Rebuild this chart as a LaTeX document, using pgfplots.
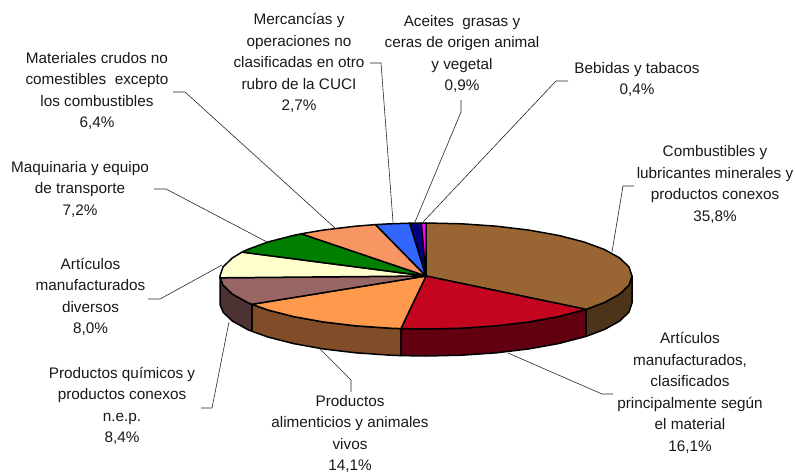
\documentclass[border=0pt]{standalone}
\usepackage{fontspec}
\setmainfont{Liberation Sans}
\usepackage{pgfplots}
\pgfplotsset{compat=1.18}
\definecolor{cBrown}{HTML}{996633}
\definecolor{cBrownW}{HTML}{4D3319}
\definecolor{cRed}{HTML}{C4051F}
\definecolor{cRedW}{HTML}{62000F}
\definecolor{cOrange}{HTML}{FF994D}
\definecolor{cOrangeW}{HTML}{804D28}
\definecolor{cPink}{HTML}{996666}
\definecolor{cPinkW}{HTML}{4D3333}
\definecolor{cCream}{HTML}{FFFFCC}
\definecolor{cGreen}{HTML}{007F00}
\definecolor{cSalmon}{HTML}{F79563}
\definecolor{cBlue}{HTML}{3366FF}
\definecolor{cNavy}{HTML}{000080}
\definecolor{cMag}{HTML}{FF00FF}
\tikzset{
  wedge/.style={draw=black,line width=1.5pt,line join=round,fill=#1},
  lead/.style={draw=black!85,line width=0.6pt},
  lab/.style={align=center,anchor=center,inner sep=0pt,font=\fontsize{15.3}{21.5}\selectfont,text=black!90}}
\begin{document}
\begin{tikzpicture}[x=1pt,y=1pt]
\useasboundingbox (0,0) rectangle (795,474);
\begin{axis}[at={(0,0)},anchor=south west,scale only axis,width=795pt,height=474pt,
  xmin=0,xmax=795,ymin=0,ymax=474,y dir=reverse,hide axis,clip=false,no markers]
% side walls
\addplot[wedge=cBrownW] coordinates {(632,276)(628.9,285.2)(619.6,294.1)(604.4,302.5)(586.1,309.4)(586.1,336.4)(604.4,329.5)(619.6,321.1)(628.9,312.2)(632,303)} --cycle;
\addplot[wedge=cRedW] coordinates {(586.1,309.4)(558.4,316.6)(529,321.9)(496.5,325.8)(461.8,328.2)(426,329)(400.9,328.6)(400.9,355.6)(426,356)(461.8,355.2)(496.5,352.8)(529,348.9)(558.4,343.6)(586.1,336.4)} --cycle;
\addplot[wedge=cOrangeW] coordinates {(400.9,328.6)(390.2,328.2)(355.5,325.8)(323,321.9)(293.6,316.6)(268.2,310.1)(251.9,304.3)(251.9,331.3)(268.2,337.1)(293.6,343.6)(323,348.9)(355.5,352.8)(390.2,355.2)(400.9,355.6)} --cycle;
\addplot[wedge=cPinkW] coordinates {(251.9,304.3)(247.6,302.5)(232.4,294.1)(223.1,285.2)(220.1,277.8)(220,276)(220,303)(220.1,304.8)(223.1,312.2)(232.4,321.1)(247.6,329.5)(251.9,331.3)} --cycle;
% top faces
\addplot[wedge=cBrown] coordinates {(426,276)(426,223)(461.8,223.8)(496.5,226.2)(529,230.1)(558.4,235.4)(583.8,241.9)(604.4,249.5)(619.6,257.9)(628.9,266.8)(632,276)(628.9,285.2)(619.6,294.1)(604.4,302.5)(586.1,309.4)} --cycle;
\addplot[wedge=cRed] coordinates {(426,276)(586.1,309.4)(558.4,316.6)(529,321.9)(496.5,325.8)(461.8,328.2)(426,329)(400.9,328.6)} --cycle;
\addplot[wedge=cOrange] coordinates {(426,276)(400.9,328.6)(390.2,328.2)(355.5,325.8)(323,321.9)(293.6,316.6)(268.2,310.1)(251.9,304.3)} --cycle;
\addplot[wedge=cPink] coordinates {(426,276)(251.9,304.3)(247.6,302.5)(232.4,294.1)(223.1,285.2)(220.1,277.8)} --cycle;
\addplot[wedge=cCream] coordinates {(426,276)(220.1,277.8)(220,276)(223.1,266.8)(232.4,257.9)(242.1,252.1)} --cycle;
\addplot[wedge=cGreen] coordinates {(426,276)(242.1,252.1)(247.6,249.5)(268.2,241.9)(293.6,235.4)(301.2,233.8)} --cycle;
\addplot[wedge=cSalmon] coordinates {(426,276)(301.2,233.8)(323,230.1)(355.5,226.2)(375.5,224.6)} --cycle;
\addplot[wedge=cBlue] coordinates {(426,276)(375.5,224.6)(390.2,223.8)(409.8,223.2)} --cycle;
\addplot[wedge=cNavy] coordinates {(426,276)(409.8,223.2)(421.3,223)} --cycle;
\addplot[wedge=cMag] coordinates {(426,276)(421.3,223)(426,223)} --cycle;
% leader lines
\addplot[lead] coordinates {(370,63)(381,63)(393,222)};
\addplot[lead] coordinates {(173,92)(185,92)(335,228)};
\addplot[lead] coordinates {(154,189)(166,189)(267,242)};
\addplot[lead] coordinates {(461,100)(461,112)(415,222)};
\addplot[lead] coordinates {(568,81)(556,81)(423,222)};
\addplot[lead] coordinates {(634,186)(623,186)(612,252)};
\addplot[lead] coordinates {(613,394)(602,394)(508,353)};
\addplot[lead] coordinates {(351,392)(351,380)(320,349)};
\addplot[lead] coordinates {(201,408)(212,408)(229,322)};
\addplot[lead] coordinates {(148,299)(160,299)(222,265)};
% labels
\node[lab] at (axis cs:299,63) {Mercancías y\\operaciones no\\clasificadas en otro\\rubro de la CUCI\\2,7\%};
\node[lab] at (axis cs:462,54) {Aceites\ \ grasas y\\ceras de origen animal\\y vegetal\\0,9\%};
\node[lab] at (axis cs:637,79.5) {Bebidas y tabacos\\0,4\%};
\node[lab] at (axis cs:715,184.5) {Combustibles y\\lubricantes minerales y\\productos conexos\\35,8\%};
\node[lab] at (axis cs:97,91) {Materiales crudos no\\comestibles\ \ excepto\\los combustibles\\6,4\%};
\node[lab] at (axis cs:80,189) {Maquinaria y equipo\\de transporte\\7,2\%};
\node[lab] at (axis cs:90.5,297) {Artículos\\manufacturados\\diversos\\8,0\%};
\node[lab] at (axis cs:122,406) {Productos químicos y\\productos conexos\\n.e.p.\\8,4\%};
\node[lab] at (axis cs:350,434) {Productos\\alimenticios y animales\\vivos\\14,1\%};
\node[lab] at (axis cs:690,393) {Artículos\\manufacturados,\\clasificados\\principalmente según\\el material\\16,1\%};
\end{axis}
\end{tikzpicture}
\end{document}
